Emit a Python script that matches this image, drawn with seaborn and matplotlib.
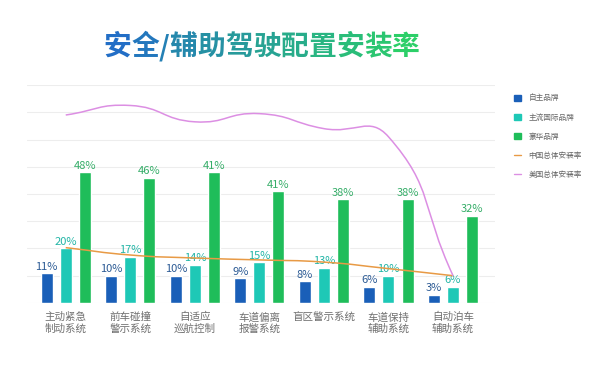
import numpy as np
import pandas as pd
import seaborn as sns
import matplotlib.pyplot as plt
from matplotlib.path import Path
from matplotlib.patches import PathPatch, Patch
from matplotlib.lines import Line2D

categories = ["主动紧急\n制动系统", "前车碰撞\n警示系统", "自适应\n巡航控制", "车道偏离\n报警系统",
              "盲区警示系统", "车道保持\n辅助系统", "自动泊车\n辅助系统"]
brands = ["自主品牌", "主流国际品牌", "豪华品牌"]
domestic = [11, 10, 10, 9, 8, 6, 3]
intl = [20, 17, 14, 15, 13, 10, 6]
luxury = [48, 46, 48, 41, 38, 38, 32]   # 3rd bar is drawn at ~48 in the source, labelled 41%
luxury_labels = ["48%", "46%", "41%", "41%", "38%", "38%", "32%"]
china_rate = [20.3, 17.6, 16.5, 15.8, 15.0, 12.6, 10.0]
us_rate = [69, 72.5, 66.5, 69.5, 64, 61, 10]

bar_colors = ["#1a5fb8", "#1ec8b6", "#1fbd5a"]
label_colors = ["#2b5a94", "#22b5a6", "#35ad68"]

df = pd.DataFrame({
    "cat": categories * 3,
    "brand": np.repeat(brands, len(categories)),
    "val": domestic + intl + luxury,
})

sns.set_style("white")
plt.rcParams["font.family"] = ["Noto Sans CJK SC", "DejaVu Sans"]

fig = plt.figure(figsize=(6, 3.65), dpi=100)
ax = fig.add_axes([0.045, 0.170, 0.78, 0.597])

sns.barplot(data=df, x="cat", y="val", hue="brand", palette=bar_colors,
            width=0.885, gap=0.37, ax=ax, legend=False, saturation=1)

ax.set_ylim(0, 80)
ax.set_xlim(-0.6, 6.65)
ax.set_yticks(range(0, 81, 10))
ax.yaxis.grid(True, color="#ededed", lw=0.8)
ax.set_axisbelow(True)
ax.tick_params(axis="y", left=False, labelleft=False)
ax.tick_params(axis="x", bottom=False, labelsize=7.6, labelcolor="#707070", pad=3)
for lab in ax.get_xticklabels():
    lab.set_linespacing(1.2)
for s in ax.spines.values():
    s.set_visible(False)
ax.set_xlabel("")
ax.set_ylabel("")

# value labels
offs = [-0.295, 0.0, 0.295]
texts = [[f"{v}%" for v in domestic], [f"{v}%" for v in intl], luxury_labels]
vals = [domestic, intl, luxury]
for k in range(3):
    for i in range(len(categories)):
        ax.annotate(texts[k][i], (i + offs[k], vals[k][i]), xytext=(0, 1),
                    textcoords="offset points", ha="center", va="bottom",
                    fontsize=8, color=label_colors[k])


def smooth_line(ys, color, smooth=0.5):
    # echarts-style smoothing, control points computed in display space
    fig.canvas.draw()
    tr = ax.transData
    pts = tr.transform(np.column_stack([np.arange(len(ys)), ys]))
    n = len(pts)
    cps_in, cps_out = [], []
    for i in range(n):
        p = pts[i]
        prev = pts[i - 1] if i > 0 else p
        nxt = pts[i + 1] if i < n - 1 else p
        v = (nxt - prev) * smooth
        d0 = np.hypot(*(p - prev))
        d1 = np.hypot(*(nxt - p))
        tot = d0 + d1 if d0 + d1 > 0 else 1
        cps_in.append(p - v * d0 / tot)
        cps_out.append(p + v * d1 / tot)
    verts = [pts[0]]
    codes = [Path.MOVETO]
    for i in range(n - 1):
        verts += [cps_out[i], cps_in[i + 1], pts[i + 1]]
        codes += [Path.CURVE4] * 3
    verts = tr.inverted().transform(np.array(verts))
    ax.add_patch(PathPatch(Path(verts, codes), fill=False, edgecolor=color, lw=1.1, zorder=5))


smooth_line(china_rate, "#e89a45")
smooth_line(us_rate, "#dc8fe3")

# legend
handles = [Patch(color=c) for c in bar_colors] + [
    Line2D([], [], color="#e89a45", lw=1), Line2D([], [], color="#dc8fe3", lw=1)]
labels = brands + ["中国总体安装率", "美国总体安装率"]
fig.legend(handles, labels, loc="upper left", bbox_to_anchor=(0.850, 0.752),
           frameon=False, fontsize=5.5, labelcolor="#666666", handlelength=0.9,
           handleheight=0.9, handletextpad=1.0, labelspacing=1.45, borderpad=0)

# gradient title
title = "安全/辅助驾驶配置安装率"
start = np.array([0x22, 0x6e, 0xc6]) / 255
end = np.array([0x2c, 0xcf, 0x68]) / 255
renderer = fig.canvas.get_renderer()
widths = []
for ch in title:
    t = fig.text(0, 0, ch, fontsize=20, fontweight="bold")
    widths.append(t.get_window_extent(renderer).width)
    t.remove()
x = 261.5 - sum(widths) / 2
for j, ch in enumerate(title):
    c = start + (end - start) * j / (len(title) - 1)
    fig.text(x / 600, 0.871, ch, fontsize=20, fontweight="bold", color=c, va="center")
    x += widths[j]

fig.savefig("out.png", dpi=100, facecolor="white")
